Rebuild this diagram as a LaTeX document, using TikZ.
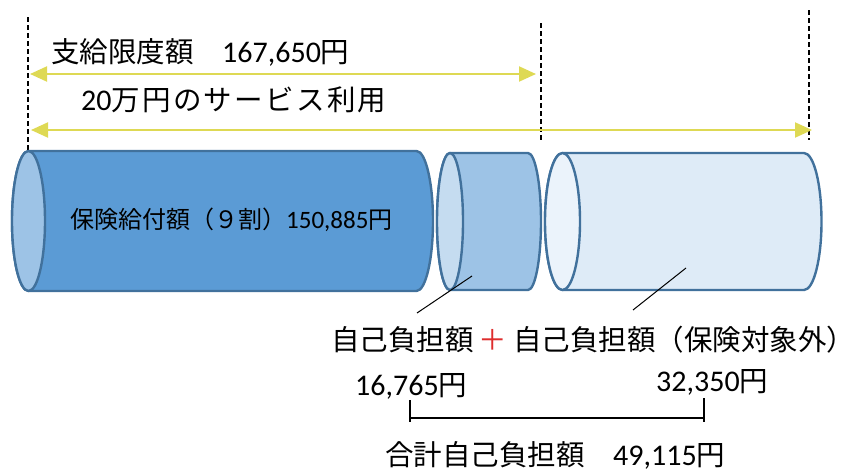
\documentclass[tikz,border=0pt]{standalone}
\usepackage{fontspec}
\setmainfont{Carlito}
\newfontfamily\jp{Noto Sans CJK JP}
\newfontfamily\calib{Carlito}
\usetikzlibrary{arrows.meta}
\definecolor{kyufu}{RGB}{91,155,213}
\definecolor{kyufumen}{RGB}{157,195,230}
\definecolor{jiko}{RGB}{157,195,230}
\definecolor{jikomen}{RGB}{197,220,240}
\definecolor{gai}{RGB}{222,235,247}
\definecolor{gaimen}{RGB}{235,243,251}
\definecolor{waku}{RGB}{65,113,156}
\definecolor{kiiro}{RGB}{222,217,84}
\definecolor{akaji}{RGB}{222,45,45}
\newcommand{\suji}[1]{{\calib\fontsize{30}{32}\selectfont #1}}
\newcommand{\sujis}[1]{{\calib\fontsize{25}{28}\selectfont #1}}

\begin{document}
\begin{tikzpicture}[x=1pt, y=-1pt,
	tsutsu/.style={draw=waku, line width=2.4pt, line join=round},
	yarrow/.style={draw=kiiro, line width=2pt, arrows={Triangle[length=17pt, width=15pt]-Triangle[length=17pt, width=15pt]}},
	guide/.style={line width=2pt, dash pattern=on 5pt off 3pt},
	lbl/.style={font=\jp\fontsize{28.5}{32}\selectfont, anchor=west, inner sep=0pt},
	inlbl/.style={lbl, font=\jp\fontsize{24}{28}\selectfont}]
	\useasboundingbox (0,0) rectangle (842,471);

	% guide lines and arrows
	\coordinate (gL) at (28,17);
	\coordinate (gLb) at (28,151);
	\coordinate (gM) at (541,23);
	\coordinate (gMb) at (541,140);
	\coordinate (gR) at (809,10);
	\coordinate (gRb) at (809,140);
	\draw [guide] (gL) -- (gLb);
	\draw [guide] (gM) -- (gMb);
	\draw [guide] (gR) -- (gRb);
	\coordinate (a1l) at (30,74);
	\coordinate (a1r) at (536,74);
	\coordinate (a2l) at (31,130);
	\coordinate (a2r) at (812,130);
	\draw [yarrow] (a1l) -- (a1r);
	\draw [yarrow] (a2l) -- (a2r);
	\node [lbl] (gendo) at (51,52.5) {支給限度額　\suji{167,650}円};
	\node [lbl] (riyou) at (81,100) {\suji{20}{\addfontfeature{LetterSpace=8}万円のサービス利用}};

	% cylinders
	\draw [tsutsu, fill=kyufu] (28.5,151) -- (416.5,151) arc [start angle=-90, end angle=90, x radius=16.5, y radius=70] -- (28.5,291) arc [start angle=90, end angle=270, x radius=16.5, y radius=70] -- cycle;
	\draw [tsutsu, fill=kyufumen] (28.5,221) ellipse [x radius=16.5, y radius=70];
	\draw [tsutsu, fill=jiko] (450,153) -- (528,153) arc [start angle=-90, end angle=90, x radius=13, y radius=68.5] -- (450,290) arc [start angle=90, end angle=270, x radius=13, y radius=68.5] -- cycle;
	\draw [tsutsu, fill=jikomen] (450,221.5) ellipse [x radius=13, y radius=68.5];
	\draw [tsutsu, fill=gai] (562.5,153) -- (804,153) arc [start angle=-90, end angle=90, x radius=17.5, y radius=68.5] -- (562.5,290) arc [start angle=90, end angle=270, x radius=17.5, y radius=68.5] -- cycle;
	\draw [tsutsu, fill=gaimen] (562.5,221.5) ellipse [x radius=17.5, y radius=68.5];
	\node [inlbl] (hoken) at (70,219.5) {保険給付額（９割）\sujis{150,885}円};

	% leaders and totals
	\coordinate (p1) at (472,276);
	\coordinate (p1e) at (417,313);
	\coordinate (p2) at (686,268);
	\coordinate (p2e) at (633,310);
	\draw [line width=1pt] (p1) -- (p1e);
	\draw [line width=1pt] (p2) -- (p2e);
	\node [lbl] (futan) at (331,339.5) {自己負担額\hspace{5pt}{\color{akaji}＋}\hspace{6pt}自己負担額（保険対象外）};
	\node [lbl] (futan1) at (355,386) {\suji{16,765}円};
	\node [lbl] (futan2) at (656,382) {\suji{32,350}円};
	\coordinate (bkL) at (410,418);
	\coordinate (bkR) at (704,418);
	\draw [line width=2pt] (410,400) -- (410,422);
	\draw [line width=2pt] (704,398) -- (704,422);
	\draw [line width=2pt] (bkL) -- (bkR);
	\node [lbl] (goukei) at (385,455) {合計自己負担額　\suji{49,115}円};
\end{tikzpicture}
\end{document}
